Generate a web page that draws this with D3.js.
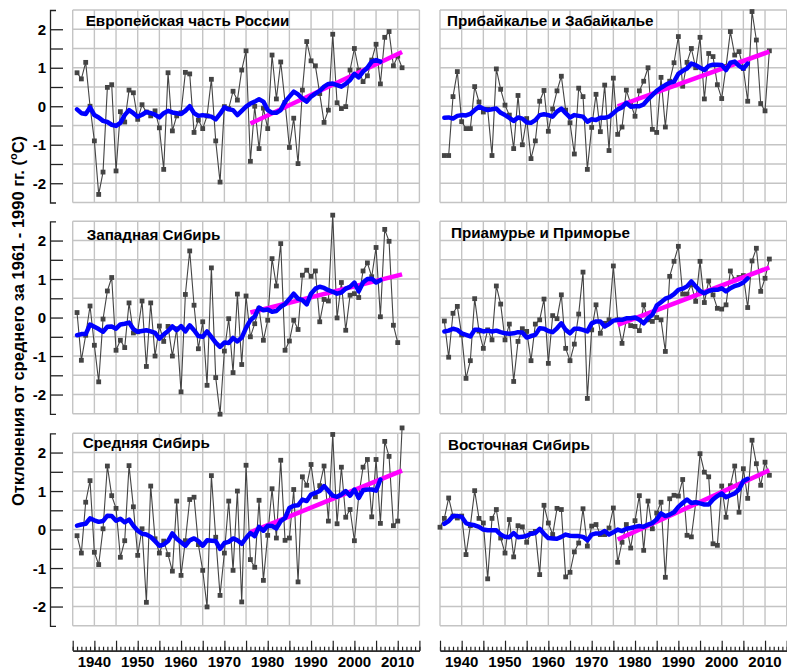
<!DOCTYPE html>
<html><head><meta charset="utf-8">
<script src="https://cdn.jsdelivr.net/npm/d3@7"></script>
<style>body{margin:0;background:#fff}svg{display:block;font-family:Arial,"Liberation Sans",sans-serif}</style>
</head><body><svg id="c" width="787" height="669"></svg>
<script>
// ---------------- DATA ----------------
const regionNames = ["Европейская часть России","Прибайкалье и Забайкалье","Западная Сибирь","Приамурье и Приморье","Средняя Сибирь","Восточная Сибирь"];
const anomalyStart = [1936,1936,1936,1936,1936,1935];
const smoothStart = 1936;
const trendYears = [1976, 2011];
const xTickLabels = [1940,1950,1960,1970,1980,1990,2000,2010];
const yTickLabels = [2,1,0,-1,-2];
const yAxisTitle = "Отклонения от среднего за 1961 - 1990 гг. (";

const anomEur = [0.87,0.71,1.14,0.0,-0.9,-2.29,-1.71,0.49,0.56,-1.68,
 -0.14,-0.41,0.42,0.35,-0.34,0.04,-0.15,-0.25,-0.12,-0.56,
 -1.64,0.87,-0.64,-0.25,-0.17,0.88,0.84,-0.68,-0.36,-0.58,
 -0.25,0.70,-0.9,-1.97,-0.01,-0.06,0.39,0.16,0.94,1.44,
 -1.43,0.0,-1.1,-0.05,-0.58,1.33,0.19,1.15,0.1,-1.07,
 -0.31,-1.49,0.42,1.68,1.18,1.05,0.33,-0.42,-0.1,1.87,
 0.09,-0.06,-0.01,0.94,1.5,0.94,0.64,0.79,1.2,1.61,
 0.58,1.79,1.94,1.05,1.3,1.0];
const anomBaikal = [-1.28,-1.28,0.25,0.9,-0.4,-0.58,-0.58,0.51,0.11,-0.15,
 -0.08,-1.28,0.97,0.44,0.03,-0.23,-1.1,0.28,-1.0,-0.32,
 -1.36,-0.9,0.13,0.41,-0.65,-0.07,0.4,0.78,-0.1,-0.43,
 -1.24,0.47,0.25,-1.64,-0.55,0.31,-0.66,0.55,-1.15,0.73,
 -0.73,-0.54,0.42,0.06,-0.26,0.4,0.65,1.0,-0.6,-0.68,
 0.75,-0.54,0.65,1.13,1.81,0.52,1.14,1.5,1.0,1.79,
 0.19,1.37,1.29,0.56,0.2,1.03,1.94,1.33,1.42,0.98,
 0.13,2.46,1.72,0.07,-0.12,1.44];
const anomWSib = [0.13,-1.11,-0.46,0.3,-0.72,-1.67,-0.04,0.69,1.04,-0.85,
 -0.59,-0.78,0.38,-0.4,-0.37,0.43,-1.27,0.38,-1.0,-0.22,
 -0.62,-0.23,-1.0,-0.29,-1.93,0.6,1.73,0.32,-0.81,-0.11,
 -1.76,1.29,-1.56,-2.51,-0.87,-0.03,-1.43,0.61,-1.22,0.56,
 -0.5,-0.16,0.23,-0.59,-0.07,1.53,0.82,1.92,-0.85,-0.61,
 -0.07,-0.31,1.1,1.23,1.07,1.21,-0.11,0.47,0.43,2.66,
 -0.01,0.91,-0.33,0.58,0.62,0.52,1.21,1.42,1.06,1.82,
 0.02,2.29,1.98,-0.2,-0.65];
const anomAmur = [-0.09,-1.03,0.11,0.29,-0.45,-1.58,-1.12,0.49,-0.35,-0.8,
 -0.32,-0.58,0.82,0.35,-0.58,-0.17,-1.66,-0.62,-0.29,-0.36,
 -1.12,-0.17,-0.06,0.48,-1.19,0.05,-0.03,0.59,-0.8,-1.12,
 -0.69,0.09,1.18,-2.1,-0.32,0.33,-0.41,-0.15,-0.06,1.34,
 -0.06,-0.67,-0.06,-0.21,-0.23,-0.34,0.33,-0.06,-0.1,0.0,
 -0.06,-0.88,1.07,1.46,1.85,0.61,0.61,0.85,0.42,1.46,
 0.39,0.95,0.59,0.24,0.22,0.33,1.21,0.98,1.04,1.09,
 0.26,1.47,1.8,0.68,1.02,1.52];
const anomCSib = [-0.16,-0.61,0.71,1.27,-0.59,-0.91,0.02,1.65,0.88,0.55,
 -0.72,-0.29,1.66,0.59,-0.67,0.02,-1.89,1.13,-0.24,-0.61,
 -0.3,-0.65,-1.08,0.74,-1.19,-0.29,0.78,0.84,-0.39,-1.06,
 -2.01,1.4,-0.2,-1.71,-0.61,0.74,-1.06,1.0,-1.88,1.67,
 -0.78,-0.98,0.76,-1.32,-0.15,1.06,-0.22,1.8,-0.28,-0.22,
 1.04,-1.36,1.37,1.15,1.69,0.85,1.14,1.65,0.22,2.47,
 0.15,1.62,0.32,0.52,-0.29,0.87,1.62,1.82,0.33,1.82,
 0.16,2.29,1.9,0.1,0.22,2.64];
const anomESib = [0.06,
 0.29,0.82,0.35,0.3,0.35,-0.65,0.1,1.01,0.29,0.17,
 -1.28,0.29,0.52,-0.22,-0.61,0.26,-0.71,0.1,0.07,-0.33,
 -0.1,-0.05,-1.17,0.63,0.17,-0.13,0.55,0.52,-1.23,-1.11,
 -0.58,-0.35,0.54,-0.43,0.09,0.13,-0.13,-0.13,0.04,0.56,
 -0.85,-0.33,0.13,-0.48,0.23,0.88,-0.54,0.74,0.02,0.43,
 0.71,-1.24,0.8,0.89,0.87,1.3,-0.15,-0.19,0.69,1.97,
 1.49,1.37,-0.37,-0.41,1.13,0.32,1.14,1.65,0.45,1.58,
 0.81,2.32,1.71,1.15,1.75,1.41];

const smoothEur = [-0.08,-0.18,-0.2,-0.03,-0.23,-0.29,-0.38,-0.41,-0.48,-0.51,
 -0.43,-0.23,-0.1,-0.18,-0.27,-0.22,-0.15,-0.18,-0.22,-0.29,
 -0.18,-0.12,-0.16,-0.18,-0.2,-0.12,0.0,-0.18,-0.25,-0.23,
 -0.25,-0.27,-0.34,-0.2,-0.03,-0.08,-0.1,-0.23,-0.12,-0.01,
 0.07,0.12,0.18,0.12,-0.1,-0.17,-0.17,-0.1,0.12,0.25,
 0.38,0.31,0.2,0.12,0.25,0.33,0.4,0.51,0.58,0.59,
 0.55,0.51,0.58,0.68,0.84,0.75,0.9,1.0,1.16,1.2,
 1.16];
const smoothBaikal = [-0.3,-0.29,-0.32,-0.25,-0.23,-0.24,-0.2,-0.1,-0.01,-0.06,
 -0.1,-0.08,-0.06,-0.17,-0.23,-0.3,-0.38,-0.29,-0.32,-0.42,
 -0.43,-0.36,-0.23,-0.21,-0.23,-0.27,-0.14,-0.06,-0.18,-0.29,
 -0.23,-0.25,-0.27,-0.4,-0.34,-0.36,-0.3,-0.3,-0.27,-0.18,
 -0.08,-0.03,0.09,-0.01,0.0,0.0,0.05,0.18,0.29,0.4,
 0.48,0.55,0.61,0.64,0.84,0.92,0.98,1.11,1.07,1.0,
 0.94,1.05,1.08,1.08,1.07,0.94,1.13,1.16,1.05,0.98,
 1.11];
const smoothWSib = [-0.46,-0.43,-0.43,-0.18,-0.24,-0.3,-0.37,-0.24,-0.23,-0.29,
 -0.18,-0.16,-0.13,-0.3,-0.37,-0.35,-0.33,-0.36,-0.4,-0.55,
 -0.44,-0.35,-0.23,-0.33,-0.22,-0.36,-0.2,-0.33,-0.48,-0.5,
 -0.36,-0.5,-0.65,-0.76,-0.65,-0.66,-0.53,-0.62,-0.52,-0.27,
 -0.07,0.03,0.26,0.19,0.21,0.15,0.17,0.28,0.35,0.48,
 0.62,0.49,0.45,0.34,0.62,0.75,0.8,0.77,0.71,0.67,
 0.62,0.65,0.75,0.8,0.91,0.68,0.91,1.0,1.01,0.91,
 0.97];
const smoothAmur = [-0.36,-0.34,-0.29,-0.32,-0.41,-0.45,-0.49,-0.32,-0.32,-0.36,
 -0.34,-0.36,-0.34,-0.38,-0.41,-0.42,-0.41,-0.38,-0.39,-0.52,
 -0.48,-0.45,-0.28,-0.29,-0.35,-0.38,-0.28,-0.15,-0.32,-0.41,
 -0.29,-0.29,-0.32,-0.36,-0.15,-0.1,-0.1,-0.23,-0.17,-0.08,
 -0.06,-0.06,-0.02,-0.02,0.0,-0.06,-0.15,-0.02,0.07,0.31,
 0.4,0.49,0.53,0.61,0.72,0.75,0.81,0.94,0.81,0.69,
 0.63,0.69,0.72,0.72,0.76,0.68,0.76,0.82,0.85,0.91,
 1.02];
const smoothCSib = [0.1,0.13,0.15,0.29,0.24,0.2,0.22,0.36,0.35,0.23,
 0.28,0.19,0.26,0.1,-0.03,-0.11,-0.13,-0.19,-0.3,-0.42,
 -0.39,-0.3,-0.1,-0.24,-0.33,-0.42,-0.28,-0.23,-0.3,-0.42,
 -0.28,-0.29,-0.3,-0.5,-0.35,-0.32,-0.23,-0.28,-0.37,-0.22,
 -0.09,-0.17,0.07,-0.03,0.1,0.09,0.03,0.22,0.3,0.56,
 0.62,0.63,0.78,0.74,0.91,0.95,1.0,1.13,1.01,0.88,
 0.85,0.91,1.0,0.88,1.04,0.82,1.02,1.04,1.04,1.01,
 1.3];
const smoothESib = [0.15,0.22,0.35,0.35,0.33,0.17,0.13,0.11,0.07,0.0,
 -0.02,-0.02,-0.02,-0.13,-0.19,-0.2,-0.09,-0.2,-0.19,-0.16,
 -0.11,-0.09,0.02,-0.11,-0.22,-0.23,-0.24,-0.19,-0.13,-0.16,
 -0.17,-0.17,-0.19,-0.28,-0.13,-0.1,-0.1,-0.04,-0.13,-0.07,
 0.0,-0.04,0.02,0.04,0.07,0.09,0.07,0.13,0.17,0.26,
 0.42,0.35,0.39,0.45,0.59,0.69,0.78,0.69,0.71,0.68,
 0.65,0.65,0.78,0.87,0.94,0.84,0.89,0.94,1.04,1.26,
 1.32];

const trendEur = [-0.45, 1.41];
const trendBaikal = [0.0, 1.42];
const trendWSib = [0.13, 1.12];
const trendAmur = [-0.19, 1.30];
const trendCSib = [-0.07, 1.53];
const trendESib = [-0.26, 1.54];

const anomalies = [anomEur, anomBaikal, anomWSib, anomAmur, anomCSib, anomESib];
const smoothed = [smoothEur, smoothBaikal, smoothWSib, smoothAmur, smoothCSib, smoothESib];
const trends = [trendEur, trendBaikal, trendWSib, trendAmur, trendCSib, trendESib];

// ---------------- LAYOUT ----------------
const colX = [72.7, 440], plotW = 346.7;
const rowY = [10, 221.3, 433.3], plotH = 192.5;
const titleOff = [[13,16],[7,16],[14,19],[11,17],[10,15],[8,17]];
const gridColor = "#c4c4c4";

const svg = d3.select("#c");

regionNames.forEach((name, i) => {
  const col = i % 2, row = Math.floor(i / 2);
  const x = d3.scaleLinear().domain([1935, 2015]).range([colX[col], colX[col] + plotW]);
  const y = d3.scaleLinear().domain([-2.5, 2.5]).range([rowY[row] + plotH, rowY[row]]);
  const g = svg.append("g");

  // grid
  g.selectAll("line.v").data(d3.range(1935, 2016, 5)).join("line")
    .attr("x1", d => x(d)).attr("x2", d => x(d)).attr("y1", y(-2.5)).attr("y2", y(2.5))
    .attr("stroke", gridColor).attr("stroke-width", 1.4);
  g.selectAll("line.h").data(d3.range(-2.5, 2.51, 0.5)).join("line")
    .attr("y1", d => y(d)).attr("y2", d => y(d)).attr("x1", x(1935)).attr("x2", x(2015))
    .attr("stroke", gridColor).attr("stroke-width", 1.4);

  // anomalies
  const pts = anomalies[i].map((v, k) => ({yr: anomalyStart[i] + k, v}));
  g.append("path").datum(pts)
    .attr("d", d3.line().x(d => x(d.yr)).y(d => y(d.v)))
    .attr("fill", "none").attr("stroke", "#444").attr("stroke-width", 1.1);
  g.selectAll("rect.m").data(pts).join("rect")
    .attr("x", d => x(d.yr) - 2.4).attr("y", d => y(d.v) - 2.4)
    .attr("width", 4.8).attr("height", 4.8).attr("fill", "#444");

  // trend
  const tr = trends[i].map((v, k) => ({yr: trendYears[k], v}));
  g.append("path").datum(tr)
    .attr("d", d3.line().x(d => x(d.yr)).y(d => y(d.v)))
    .attr("stroke", "#ff00ff").attr("stroke-width", 4.5).attr("fill", "none");

  // smoothed
  const sm = smoothed[i].map((v, k) => ({yr: smoothStart + k, v}));
  g.append("path").datum(sm)
    .attr("d", d3.line().x(d => x(d.yr)).y(d => y(d.v)))
    .attr("stroke", "#0000ff").attr("stroke-width", 4.5).attr("fill", "none")
    .attr("stroke-linejoin", "round").attr("stroke-linecap", "round");

  // title
  g.append("text").attr("x", colX[col] + titleOff[i][0]).attr("y", rowY[row] + titleOff[i][1])
    .attr("font-size", 15.2).attr("font-weight", "bold").attr("fill", "#000").text(name);

  // y axis (left column rows only)
  if (col === 0) {
    const ax = svg.append("g").attr("transform", "translate(50,0)")
      .call(d3.axisRight(y).tickValues(d3.range(-2, 2.01, 0.5)).tickSizeInner(13).tickSizeOuter(6).tickFormat(""));
    ax.selectAll("path,line").attr("stroke", "#222").attr("stroke-width", 1.3);
    svg.append("g").selectAll("text").data(yTickLabels).join("text")
      .attr("x", 46).attr("y", d => y(d) + 5.5).attr("text-anchor", "end")
      .attr("font-size", 15).attr("font-weight", "bold").text(d => d);
  }

  // bottom axis
  if (row === 2) {
    const axY = 650.7;
    const major = svg.append("g").attr("transform", `translate(0,${axY})`)
      .call(d3.axisTop(x).tickValues(d3.range(1935, 2016, 5)).tickSizeInner(10).tickSizeOuter(0).tickFormat(""));
    const minor = svg.append("g").attr("transform", `translate(0,${axY})`)
      .call(d3.axisTop(x).tickValues(d3.range(1935, 2016, 1)).tickSizeInner(4).tickSizeOuter(0).tickFormat(""));
    [major, minor].forEach(a => a.selectAll("path,line").attr("stroke", "#222").attr("stroke-width", 1.2));
    svg.append("g").selectAll("text").data(xTickLabels).join("text")
      .attr("x", d => x(d)).attr("y", 667).attr("text-anchor", "middle")
      .attr("font-size", 15).attr("font-weight", "bold").text(d => d);
  }
});

// y axis title
const yt = svg.append("text").attr("transform", "translate(24,321) rotate(-90)")
  .attr("text-anchor", "middle").attr("font-size", 16.5).attr("font-weight", "bold");
yt.append("tspan").text(yAxisTitle);
yt.append("tspan").attr("font-size", 11).attr("dy", -7).text("o");
yt.append("tspan").attr("dy", 7).text("C)");
</script></body></html>
